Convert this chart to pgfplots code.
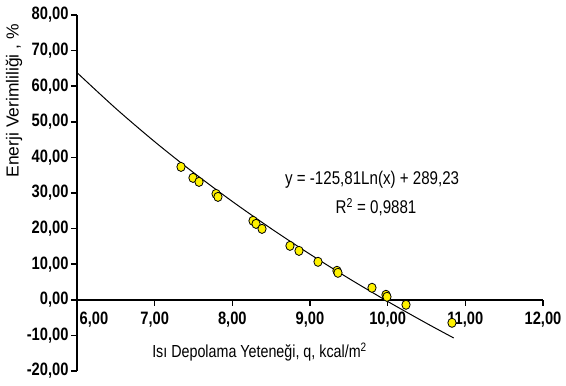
\documentclass[border=0pt]{standalone}
\usepackage{fontspec}
\setmainfont{Liberation Sans}[FakeStretch=0.82]
\newfontfamily\ylabfont{Liberation Sans}
\usepackage{pgfplots}
\pgfplotsset{compat=1.18}
\begin{document}
\begin{tikzpicture}
\begin{axis}[
  scale only axis,
  width=466bp, height=356bp,
  xmin=6, xmax=12, ymin=-20, ymax=80,
  axis x line*=middle, axis y line*=left,
  hide obscured x ticks=false,
  axis line style={black, line width=2.2bp},
  xtick={6,7,8,9,10,11,12},
  xticklabels={{\hspace{34bp}6,00},{7,00},{8,00},{9,00},{10,00},{11,00},{12,00}},
  ytick={-20,-10,0,10,20,30,40,50,60,70,80},
  yticklabels={{-20,00},{-10,00},{0,00},{10,00},{20,00},{30,00},{40,00},{50,00},{60,00},{70,00},{80,00}},
  tick align=outside,
  major tick length=6bp,
  tick style={black, line width=1.5bp},
  tick label style={font=\bfseries\fontsize{18}{18}\selectfont},
  xticklabel style={yshift=-3bp},
  yticklabel style={xshift=1bp},
  clip=false,
]
\addplot[black, line width=1bp, smooth] coordinates {
  (6,63.81) (6.5,53.74) (7,44.41) (7.5,35.73) (8,27.62) (8.5,19.99)
  (9,12.80) (9.5,6.00) (10,-0.46) (10.5,-6.60) (10.85,-10.72)
};
\addplot[only marks, mark=*, mark size=4.6bp,
  mark options={fill=yellow, draw=black, line width=0.8bp, xscale=0.9}] coordinates {
  (7.339,37.33) (7.493,34.25) (7.571,33.12) (7.790,29.75) (7.815,28.91)
  (8.266,22.18) (8.305,21.33) (8.382,19.93) (8.742,15.16) (8.858,13.75)
  (9.103,10.67) (9.347,8.14) (9.360,7.58) (9.798,3.37) (9.978,1.40)
  (9.991,0.84) (10.236,-1.40) (10.828,-6.46)
};
\node[font=\fontsize{18.5}{18.5}\selectfont] at (axis cs:9.80,33.7) {y = -125,81Ln(x) + 289,23};
\node[font=\fontsize{18.5}{18.5}\selectfont] at (axis cs:9.85,26.1) {R\textsuperscript{2} = 0,9881};
\node[font=\fontsize{17.5}{17.5}\selectfont] at (axis cs:8.35,-14.6) {Isı Depolama Yeteneği, q, kcal/m\textsuperscript{2}};
\node[font=\ylabfont\fontsize{17.5}{17.5}\selectfont, rotate=90] at (axis cs:5.189,55.9) {Enerji Verimliliği , \%};
\coordinate (tl) at (axis cs:5.0086,84.21);
\coordinate (br) at (axis cs:12.296,-24.21);
\end{axis}
\pgfresetboundingbox
\path (tl) rectangle (br);
\end{tikzpicture}
\end{document}
